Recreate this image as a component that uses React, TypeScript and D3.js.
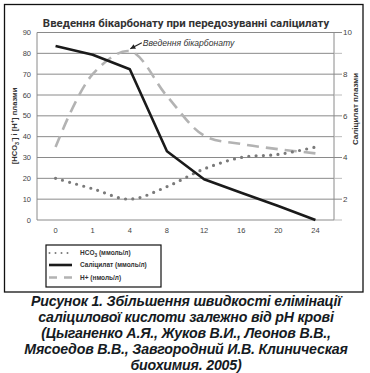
import React from "react";
import * as d3 from "d3";

const categories = ["0", "1", "4", "8", "12", "16", "20", "24"];
const hco3 = [20, 15, 10, 16, 24.5, 30, 31.5, 35];
const salicylate = [9.35, 8.93, 8.24, 4.3, 2.96, 2.31, 1.67, 1.0];
const hPlus = [35, 70, 81, 59.5, 40.5, 36.5, 34, 32];
const leftTicks = [0, 10, 20, 30, 40, 50, 60, 70, 80, 90];
const rightMinorTicks = [1, 2, 3, 4, 5, 6, 7, 8, 9, 10];
const rightTicks = [2, 4, 6, 8, 10];
const title = "Введення бікарбонату при передозуванні саліцилату";
const annotation = "Введення бікарбонату";
const captionLines = [
  "Рисунок 1. Збільшення швидкості елімінації",
  "саліцилової кислоти залежно від рН крові",
  "(Цыганенко А.Я., Жуков В.И., Леонов В.В.,",
  "Мясоедов В.В., Завгородний И.В. Клиническая",
  "биохимия. 2005)",
];

const W = 370;
const H = 373;
const left = 37;
const right = 334;
const top = 32.5;
const bottom = 220;
const axisFont = "'Liberation Sans', Arial, sans-serif";
const grid = "#8a8a8a";

export default function App() {
  const x = d3.scalePoint<string>().domain(categories).range([left, right]).padding(0.5);
  const yL = d3.scaleLinear().domain([0, 90]).range([bottom, top]);
  const yR = d3.scaleLinear().domain([1, 10]).range([bottom, top]);

  const smooth = d3.curveCatmullRom.alpha(0.5);
  const hcoLine = d3.line<number>().x((_, i) => x(categories[i])!).y((d) => yL(d)).curve(smooth);
  const hLine = d3.line<number>().x((_, i) => x(categories[i])!).y((d) => yL(d)).curve(smooth);
  const salLine = d3.line<number>().x((_, i) => x(categories[i])!).y((d) => yR(d));

  const peakIdx = hPlus.indexOf(d3.max(hPlus)!);
  const px = x(categories[peakIdx])!;
  const py = yL(hPlus[peakIdx]);
  const arrowStart: [number, number] = [px + 12, py - 8.5];
  const arrowEnd: [number, number] = [px + 0.5, py - 2.5];
  const ang = Math.atan2(arrowEnd[1] - arrowStart[1], arrowEnd[0] - arrowStart[0]);
  const ah = 5;
  const aw = 2.6;
  const head = [
    arrowEnd,
    [arrowEnd[0] - ah * Math.cos(ang) + aw * Math.sin(ang), arrowEnd[1] - ah * Math.sin(ang) - aw * Math.cos(ang)],
    [arrowEnd[0] - ah * Math.cos(ang) - aw * Math.sin(ang), arrowEnd[1] - ah * Math.sin(ang) + aw * Math.cos(ang)],
  ];

  const legendX = 46;
  const legendY = 245;
  const rows = [253, 265, 277.5];

  return (
    <svg width={W} height={H} style={{ position: "absolute", left: 0, top: 0, background: "#fff" }}>
      <rect x={4.5} y={4.5} width={358.5} height={287.5} fill="#fff" stroke="#111" strokeWidth={1.3} />
      <text x={186} y={27} textAnchor="middle" fontFamily="Roboto, sans-serif" fontWeight="bold" fontSize={11.4} fill="#333">
        {title}
      </text>

      {/* gridlines */}
      {leftTicks.map((t) => (
        <line key={"g" + t} x1={left} x2={right} y1={yL(t)} y2={yL(t)} stroke={grid} strokeWidth={1} />
      ))}
      <line x1={left} x2={left} y1={top} y2={bottom} stroke={grid} strokeWidth={1} />
      <line x1={right} x2={right} y1={top} y2={bottom} stroke={grid} strokeWidth={1} />
      {rightMinorTicks.map((t) => (
        <line key={"rt" + t} x1={right} x2={right + 8} y1={yR(t)} y2={yR(t)} stroke={t % 2 === 0 ? grid : "#bbb"} strokeWidth={1} />
      ))}

      {/* left tick labels */}
      {leftTicks.map((t) => (
        <text key={"lt" + t} x={31} y={yL(t) + 2.6} textAnchor="end" fontFamily={axisFont} fontSize={7.5} fill="#444">
          {t}
        </text>
      ))}
      {rightTicks.map((t) => (
        <text key={"rl" + t} x={343} y={yR(t) + 2.8} fontFamily={axisFont} fontSize={8} fill="#444">
          {t}
        </text>
      ))}
      {categories.map((c) => (
        <text key={"x" + c} x={x(c)!} y={233} textAnchor="middle" fontFamily={axisFont} fontSize={7.5} fill="#444">
          {c}
        </text>
      ))}

      {/* axis titles */}
      <text transform="translate(17,126) rotate(-90)" textAnchor="middle" fontFamily={axisFont} fontWeight="bold" fontSize={7.6} fill="#333">
        [HCO<tspan fontSize={5.5} dy={2}>3</tspan>
        <tspan fontSize={5.5} dy={-5}>-</tspan>
        <tspan dy={3}>] і [H</tspan>
        <tspan fontSize={5.5} dy={-3}>+</tspan>
        <tspan dy={3}>] плазми</tspan>
      </text>
      <text transform="translate(358,109) rotate(-90)" textAnchor="middle" fontFamily={axisFont} fontWeight="bold" fontSize={8} fill="#333">
        Саліцилат плазми
      </text>

      {/* series */}
      <path d={hLine(hPlus)!} fill="none" stroke="#b3b3b3" strokeWidth={2.6} strokeDasharray="12 7" />
      <path d={hcoLine(hco3)!} fill="none" stroke="#7a7a7a" strokeWidth={3.2} strokeLinecap="round" strokeDasharray="0 7.3" />
      <path d={salLine(salicylate)!} fill="none" stroke="#1a1a1a" strokeWidth={2.6} strokeLinejoin="round" />

      {/* annotation */}
      <line x1={arrowStart[0]} y1={arrowStart[1]} x2={arrowEnd[0]} y2={arrowEnd[1]} stroke="#222" strokeWidth={1.2} />
      <polygon points={head.map((p) => p.join(",")).join(" ")} fill="#222" />
      <text x={arrowStart[0] + 1} y={arrowStart[1] + 3.5} fontFamily={axisFont} fontStyle="italic" fontSize={8.6} fill="#333">
        {annotation}
      </text>

      {/* legend */}
      <rect x={legendX} y={legendY} width={115} height={42} fill="#fff" stroke="#111" strokeWidth={1.2} />
      <line x1={legendX + 3.5} x2={legendX + 26} y1={rows[0]} y2={rows[0]} stroke="#7a7a7a" strokeWidth={2} strokeLinecap="round" strokeDasharray="0 6" />
      <line x1={legendX + 3} x2={legendX + 26} y1={rows[1]} y2={rows[1]} stroke="#1a1a1a" strokeWidth={2.6} />
      <line x1={legendX + 3} x2={legendX + 26} y1={rows[2]} y2={rows[2]} stroke="#b3b3b3" strokeWidth={2.6} strokeDasharray="8 7" />
      <text x={legendX + 34} y={rows[0] + 2.3} fontFamily={axisFont} fontWeight="bold" fontSize={6.5} fill="#333">
        HCO<tspan fontSize={4.8} dy={1.5}>3</tspan>
        <tspan dy={-1.5}> (ммоль/л)</tspan>
      </text>
      <text x={legendX + 34} y={rows[1] + 2.3} fontFamily={axisFont} fontWeight="bold" fontSize={6.5} fill="#333">
        Саліцилат (ммоль/л)
      </text>
      <text x={legendX + 34} y={rows[2] + 2.3} fontFamily={axisFont} fontWeight="bold" fontSize={6.5} fill="#333">
        H+ (нмоль/л)
      </text>

      {/* caption */}
      {captionLines.map((l, i) => (
        <text key={"c" + i} x={186} y={306 + i * 16} textAnchor="middle" fontFamily={axisFont} fontWeight="bold" fontStyle="italic" fontSize={14.2} letterSpacing={-0.2} fill="#151a22">
          {l}
        </text>
      ))}
    </svg>
  );
}
